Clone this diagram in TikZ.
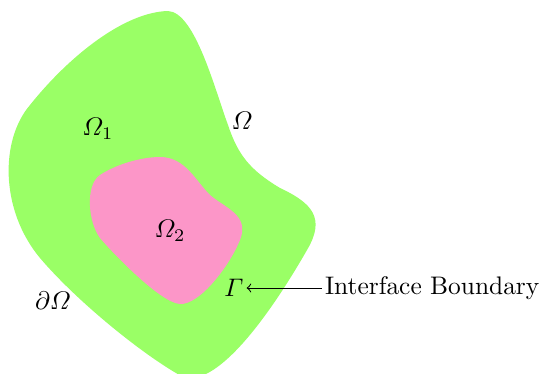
\documentclass[tikz,border=0pt]{standalone}
\usepackage{amsmath}
\begin{document}
\begin{tikzpicture}[x=0.013839cm,y=-0.013839cm,
  lbl/.style={inner sep=1pt}]
\definecolor{outergreen}{RGB}{154,255,102}
\definecolor{innerpink}{RGB}{252,150,200}
\useasboundingbox (0,0) rectangle (546,373);
\fill[outergreen] (168,11) .. controls (125,12) and (70,55) .. (30,105)
  .. controls (0,140) and (0,210) .. (40,258)
  .. controls (80,305) and (150,360) .. (185,378)
  .. controls (225,385) and (283,292) .. (307,250)
  .. controls (326,218) and (312,203) .. (280,188)
  .. controls (250,170) and (238,155) .. (228,125)
  .. controls (215,90) and (195,12) .. (168,11) -- cycle;
\fill[innerpink] (160,157) .. controls (185,157) and (195,180) .. (210,195)
  .. controls (225,208) and (250,215) .. (240,240)
  .. controls (230,265) and (200,305) .. (180,304)
  .. controls (160,303) and (110,250) .. (100,238)
  .. controls (88,222) and (85,185) .. (100,175)
  .. controls (115,165) and (140,157) .. (160,157) -- cycle;
\node[lbl] (om1) at (98,129) {$\varOmega_1$};
\node[lbl] (om) at (242,121) {$\varOmega$};
\node[lbl] (om2) at (170,231) {$\varOmega_2$};
\node[lbl] (dom) at (53,301) {$\partial\varOmega$};
\node[lbl] (gam) at (234,288) {$\varGamma$};
\node[lbl,anchor=west] (ib) at (322,288) {Interface Boundary};
\draw[<-] (gam.east) -- (ib.west);
\end{tikzpicture}
\end{document}
